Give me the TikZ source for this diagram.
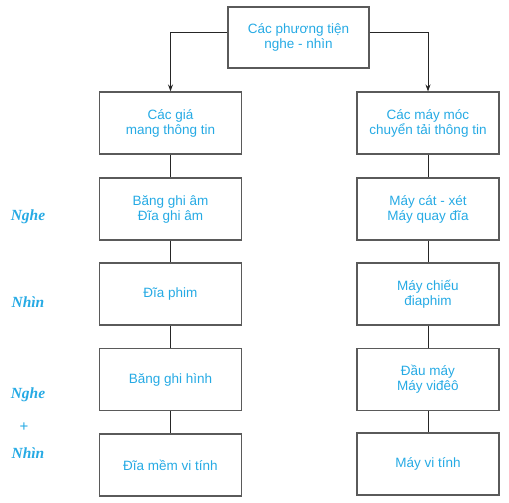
\documentclass[tikz,border=0pt]{standalone}
\usepackage{fontspec}
\setmainfont{Liberation Sans}
\newfontfamily\lblfont{Liberation Serif}
\usetikzlibrary{arrows.meta}
\definecolor{txtblue}{RGB}{38,170,228}
\definecolor{boxgray}{RGB}{90,90,90}
\tikzset{
  box/.style={draw=boxgray, line width=1.1pt, rectangle, minimum width=142pt, minimum height=62pt,
    align=center, text=txtblue, font=\fontsize{13.5}{15}\selectfont, inner sep=0pt},
  conn/.style={draw=black!85, line width=0.9pt},
  arr/.style={conn, -{Stealth[length=7pt,width=5pt]}},
  side/.style={text=txtblue, font=\lblfont\fontsize{15.5}{17}\selectfont\bfseries\itshape}
}
\begin{document}
\begin{tikzpicture}[x=1pt,y=-1pt]
\useasboundingbox (0,0) rectangle (509,503);
\node[box, minimum width=141pt, minimum height=61pt] (top) at (298.5,37.5) {Các phương tiện\\nghe - nhìn};
\node[box] (l1) at (170.5,123) {Các giá\\mang thông tin};
\node[box] (l2) at (170.5,209) {Băng ghi âm\\Đĩa ghi âm};
\node[box] (l3) at (170.5,294) {Đĩa phim};
\node[box] (l4) at (170.5,379.5) {Băng ghi hình};
\node[box] (l5) at (170.5,465) {Đĩa mềm vi tính};
\node[box] (r1) at (428,123) {Các máy móc\\chuyển tải thông tin};
\node[box] (r2) at (428,209) {Máy cát - xét\\Máy quay đĩa};
\node[box] (r3) at (428,294) {Máy chiếu\\điaphim};
\node[box] (r4) at (428,379.5) {Đầu máy\\Máy viđêô};
\node[box] (r5) at (428,464) {Máy vi tính};
\node[side] (s1) at (28,217) {Nghe};
\node[side] (s2) at (28,302) {Nhìn};
\node[side] (s3) at (28,395) {Nghe};
\node[text=txtblue, font=\fontsize{15}{17}\selectfont] (s4) at (24,427) {+};
\node[side] (s5) at (28,453) {Nhìn};
\draw[arr] (top.west |- 0,32) -| (l1.north);
\draw[arr] (top.east |- 0,32) -| (r1.north);
\draw[conn] (l1) -- (l2);
\draw[conn] (l2) -- (l3);
\draw[conn] (l3) -- (l4);
\draw[conn] (l4) -- (l5);
\draw[conn] (r1) -- (r2);
\draw[conn] (r2) -- (r3);
\draw[conn] (r3) -- (r4);
\draw[conn] (r4) -- (r5);
\end{tikzpicture}
\end{document}
